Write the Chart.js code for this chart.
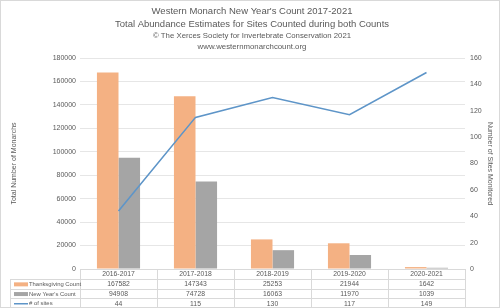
<!DOCTYPE html>
<html>
<head>
<meta charset="utf-8">
<script src="https://cdn.jsdelivr.net/npm/chart.js@4/dist/chart.umd.min.js"></script>
<style>
html,body{margin:0;padding:0;background:#fff;}
#wrap{width:500px;height:308px;position:relative;}
</style>
</head>
<body>
<div id="wrap"><canvas id="c" width="500" height="308"></canvas></div>
<script>
const categories = ['2016-2017','2017-2018','2018-2019','2019-2020','2020-2021'];
const thanksgiving = [167582,147343,25253,21944,1642];
const newYears = [94908,74728,16063,11970,1039];
const sites = [44,115,130,117,149];
const leftTicksMax = 180000;
const rightTicksMax = 160;

const ORANGE = '#F4B183';
const GRAY = '#A5A5A5';
const BLUE = '#5E95C8';
const TXT = '#595959';
const FONT = "'Liberation Sans', Arial, sans-serif";

const tablePlugin = {
  id: 'dataTable',
  afterDraw(chart) {
    const ctx = chart.ctx;
    const ca = chart.chartArea;
    const xs = chart.scales.x;
    const top = ca.bottom;
    const headerH = 10;
    const rowH = 9.7;
    const left0 = 10;
    const n = categories.length;
    const colW = (ca.right - ca.left) / n;
    const rows = [
      {label:'Thanksgiving Count', data: thanksgiving, key:'bar', color: ORANGE},
      {label:"New Year's Count", data: newYears, key:'bar', color: GRAY},
      {label:'# of sites', data: sites, key:'line', color: BLUE}
    ];
    const bottom = top + headerH + rowH * rows.length;
    ctx.save();
    ctx.strokeStyle = '#D9D9D9';
    ctx.lineWidth = 1;
    ctx.beginPath();
    ctx.moveTo(ca.left, Math.round(top)+0.5); ctx.lineTo(ca.right, Math.round(top)+0.5);
    for (let r = 0; r <= rows.length; r++) {
      const y = Math.round(top + headerH + rowH * r) + 0.5;
      ctx.moveTo(left0, y); ctx.lineTo(ca.right, y);
    }
    for (let i = 0; i <= n; i++) {
      const x = Math.round(ca.left + colW * i) + 0.5;
      ctx.moveTo(x, top); ctx.lineTo(x, bottom);
    }
    ctx.moveTo(left0 + 0.5, top + headerH); ctx.lineTo(left0 + 0.5, bottom);
    ctx.stroke();

    ctx.fillStyle = TXT;
    ctx.font = '6.8px ' + FONT;
    ctx.textAlign = 'center';
    ctx.textBaseline = 'middle';
    categories.forEach((c, i) => {
      ctx.fillText(c, xs.getPixelForValue(i), top + headerH / 2 + 0.5);
    });
    rows.forEach((row, r) => {
      const yc = top + headerH + rowH * r + rowH / 2 + 0.5;
      ctx.font = '6.8px ' + FONT;
      ctx.textAlign = 'center';
      ctx.fillStyle = TXT;
      row.data.forEach((v, i) => {
        ctx.fillText(String(v), xs.getPixelForValue(i), yc);
      });
      if (row.key === 'bar') {
        ctx.fillStyle = row.color;
        ctx.fillRect(14, yc - 2, 14, 4);
      } else {
        ctx.strokeStyle = row.color;
        ctx.lineWidth = 1.5;
        ctx.beginPath(); ctx.moveTo(14, yc); ctx.lineTo(28, yc); ctx.stroke();
      }
      ctx.fillStyle = TXT;
      ctx.textAlign = 'left';
      ctx.font = '5.9px ' + FONT;
      ctx.fillText(row.label, 29, yc);
    });
    ctx.strokeStyle = '#D9D9D9';
    ctx.lineWidth = 1;
    ctx.strokeRect(0.5, 0.5, chart.width - 1, chart.height - 1);
    ctx.restore();
  }
};

new Chart(document.getElementById('c'), {
  data: {
    labels: categories,
    datasets: [
      {type:'line', label:'# of sites', data: sites, yAxisID:'y1', borderColor: BLUE, backgroundColor: BLUE, borderWidth: 1.6, pointRadius: 0, tension: 0, order: 0},
      {type:'bar', label:'Thanksgiving Count', data: thanksgiving, yAxisID:'y', backgroundColor: ORANGE, order: 1, categoryPercentage: 0.56, barPercentage: 1.0},
      {type:'bar', label:"New Year's Count", data: newYears, yAxisID:'y', backgroundColor: GRAY, order: 1, categoryPercentage: 0.56, barPercentage: 1.0}
    ]
  },
  options: {
    responsive: false,
    animation: false,
    devicePixelRatio: 1,
    layout: {padding: {left: 10, right: 6, top: 0, bottom: 39}},
    plugins: {
      legend: {display: false},
      tooltip: {enabled: false},
      title: {
        display: true,
        text: ["Western Monarch New Year's Count 2017-2021", 'Total Abundance Estimates for Sites Counted during both Counts'],
        color: TXT,
        font: {family: FONT, size: 9.5, weight: 'normal', lineHeight: 1.37},
        padding: {top: 4.5, bottom: 0}
      },
      subtitle: {
        display: true,
        text: ['© The Xerces Society for Invertebrate Conservation 2021', 'www.westernmonarchcount.org'],
        color: TXT,
        font: {family: FONT, size: 7.8, lineHeight: 1.41},
        padding: {top: 0, bottom: 5.5}
      }
    },
    scales: {
      x: {
        display: false,
        offset: true
      },
      y: {
        position: 'left',
        min: 0, max: leftTicksMax,
        ticks: {stepSize: 20000, color: TXT, font: {family: FONT, size: 7}, padding: 4, callback: v => String(v)},
        grid: {color: '#E6E6E6', drawTicks: false},
        border: {display: false},
        title: {display: true, text: 'Total Number of Monarchs', color: TXT, font: {family: FONT, size: 7}, padding: 0},
        afterFit(s) { s.width = 70; }
      },
      y1: {
        position: 'right',
        min: 0, max: rightTicksMax,
        ticks: {stepSize: 20, color: TXT, font: {family: FONT, size: 7}, padding: 5, callback: v => String(v)},
        grid: {display: false, drawTicks: false},
        border: {display: false},
        title: {display: true, text: 'Number of Sites Monitored', color: TXT, font: {family: FONT, size: 7}, padding: 0},
        afterFit(s) { s.width = 29; }
      }
    }
  },
  plugins: [tablePlugin]
});
</script>
</body>
</html>
